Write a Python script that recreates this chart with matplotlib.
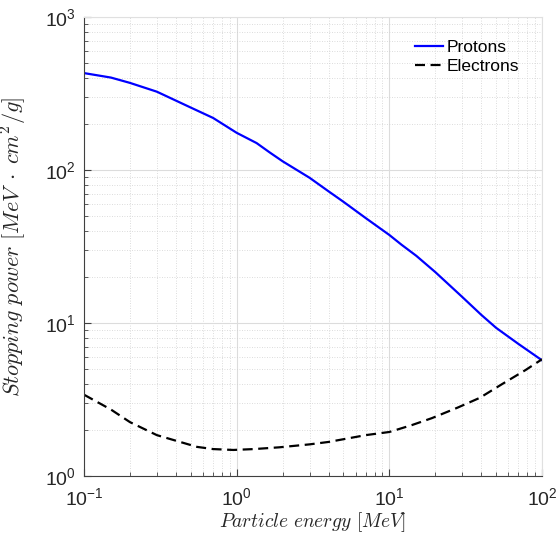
import math
import matplotlib
matplotlib.use("Agg")
import matplotlib.pyplot as plt
from matplotlib.ticker import LogLocator, NullFormatter, FuncFormatter

plt.rcParams['font.family'] = ['Liberation Sans', 'DejaVu Sans']
plt.rcParams['mathtext.fontset'] = 'cm'

proton_E = [0.1, 0.15, 0.2, 0.3, 0.5, 0.7, 1.0, 1.35, 1.65, 2, 3, 4, 5, 7, 10, 12, 15, 20, 30, 40, 50, 70, 100]
proton_S = [430, 402, 371, 325, 256, 219, 175, 150, 130, 114, 89, 72.5, 62, 48.5, 37.6, 32.5, 27.5, 21.5, 14.8, 11.3, 9.3, 7.3, 5.7]

electron_E = [0.1, 0.15, 0.2, 0.3, 0.55, 0.7, 0.95, 1.3, 1.9, 3, 4, 7, 10, 14, 19, 28, 39, 55, 78, 100]
electron_S = [3.4, 2.72, 2.25, 1.85, 1.55, 1.5, 1.48, 1.5, 1.54, 1.61, 1.67, 1.85, 1.94, 2.15, 2.39, 2.8, 3.24, 4.0, 4.93, 5.8]

fig = plt.figure(figsize=(5.6, 5.4), dpi=100)
ax = fig.add_axes([0.15, 0.1185, 0.818, 0.85])

ax.plot(proton_E, proton_S, color='#0000ff', lw=1.6, label='Protons')
ax.plot(electron_E, electron_S, color='black', lw=1.6, ls=(0, (4.5, 2.5)), label='Electrons')

ax.set_xscale('log')
ax.set_yscale('log')
ax.set_xlim(0.1, 100)
ax.set_ylim(1, 1000)

fmt = FuncFormatter(lambda v, p: r'$\mathregular{10^{%d}}$' % round(math.log10(v)))
ax.xaxis.set_major_locator(LogLocator(base=10, numticks=10))
ax.yaxis.set_major_locator(LogLocator(base=10, numticks=10))
ax.xaxis.set_major_formatter(fmt)
ax.yaxis.set_major_formatter(fmt)
ax.xaxis.set_minor_locator(LogLocator(base=10, subs=range(2, 10), numticks=20))
ax.yaxis.set_minor_locator(LogLocator(base=10, subs=range(2, 10), numticks=20))
ax.xaxis.set_minor_formatter(NullFormatter())
ax.yaxis.set_minor_formatter(NullFormatter())

ax.grid(True, which='major', color='#dcdcdc', lw=0.8, ls='-')
ax.grid(True, which='minor', color='#d0d0d0', lw=0.6, ls=(0, (1, 2)))
ax.set_axisbelow(True)

for s in ['top', 'right']:
    ax.spines[s].set_color('#e0e0e0')
for s in ['left', 'bottom']:
    ax.spines[s].set_color('#404040')

ax.tick_params(which='both', direction='in', top=False, right=False, colors='#404040', labelcolor='#262626')
ax.tick_params(which='major', length=5, labelsize=14)
ax.tick_params(which='minor', length=3)
ax.tick_params(axis='x', which='major', pad=8)
ax.tick_params(axis='y', which='major', pad=6)

ax.set_xlabel(r'$Particle\ energy\ [MeV]$', fontsize=14, color='#262626')
ax.set_ylabel(r'$Stopping\ power\ [MeV\;\cdot\;cm^2/g]$', fontsize=16, color='#262626')
ax.xaxis.set_label_coords(0.5, -0.075)
ax.yaxis.set_label_coords(-0.12, 0.5)

ax.legend(loc='upper right', frameon=False, fontsize=12.5, handlelength=1.6, handletextpad=0.25,
          labelspacing=0.25, borderaxespad=0.9)

fig.savefig('out.png', dpi=100)
